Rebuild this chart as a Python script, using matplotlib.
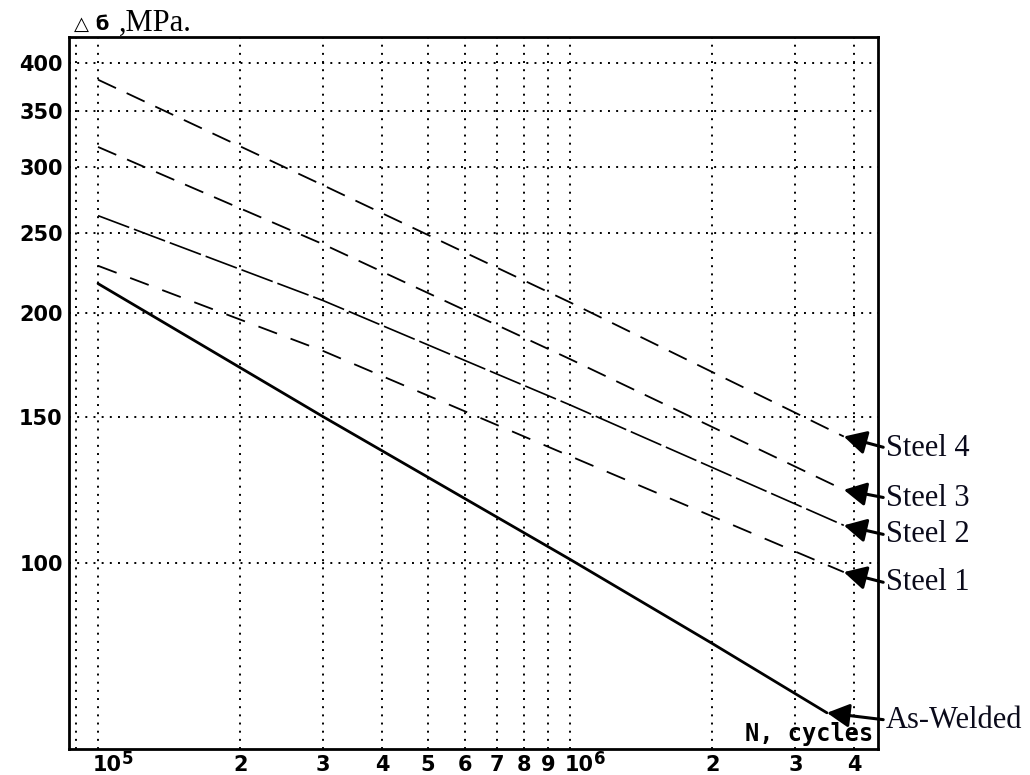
import matplotlib
matplotlib.use("Agg")
import matplotlib.pyplot as plt
from matplotlib import transforms as mtransforms
from matplotlib.ticker import NullLocator

# Fatigue (S-N) curves: stress range vs. number of cycles
cycles_aw = [1e5, 3e5, 1e6, 2e6, 3.5e6]
stress_aw = [217, 150, 101, 80, 66]

cycles_s1 = [1e5, 3e5, 1e6, 3.8e6]
stress_s1 = [228, 180, 134.5, 97.5]

cycles_s2 = [1e5, 3e5, 1e6, 3.8e6]
stress_s2 = [262, 207, 155, 111]

cycles_s3 = [1e5, 3e5, 1e6, 3.8e6]
stress_s3 = [317, 242, 176, 122.5]

cycles_s4 = [1e5, 3e5, 1e6, 3.8e6]
stress_s4 = [382, 285, 206, 142]

series_names = ["Steel 4", "Steel 3", "Steel 2", "Steel 1", "As-Welded"]

x_ticks = [9e4, 1e5, 2e5, 3e5, 4e5, 5e5, 6e5, 7e5, 8e5, 9e5, 1e6, 2e6, 3e6, 4e6]
x_labels = ["", "", "2", "3", "4", "5", "6", "7", "8", "9", "", "2", "3", "4"]
decades = [1e5, 1e6]
decade_exps = ["5", "6"]
y_ticks = [100, 150, 200, 250, 300, 350, 400]
y_labels = ["100", "150", "200", "250", "300", "350", "400"]

W, H = 1030, 775
fig = plt.figure(figsize=(W / 100, H / 100), dpi=100)
fig.patch.set_facecolor("white")
ax = fig.add_axes([69 / W, 26 / H, 809 / W, 712 / H])
ax.set_xscale("log")
ax.set_yscale("log")
ax.set_xlim(86800, 4.49e6)
ax.set_ylim(59.7, 430)

# dotted grid
ax.set_xticks(x_ticks, x_labels, fontweight="bold", fontsize=15)
ax.set_yticks(y_ticks, y_labels, fontweight="bold", fontsize=15)
ax.xaxis.set_minor_locator(NullLocator())
ax.yaxis.set_minor_locator(NullLocator())
ax.tick_params(axis="both", length=0, pad=4.5)
ax.grid(True, which="major", color="black", linestyle=(0, (1, 3.2)), linewidth=1.4)
ax.set_axisbelow(True)
for sp in ax.spines.values():
    sp.set_linewidth(2.0)
    sp.set_color("black")

# decade labels: "10" with a raised exponent
base_trans = mtransforms.offset_copy(ax.get_xaxis_transform(), fig=fig, x=-5, y=-22, units="dots")
exp_trans = mtransforms.offset_copy(ax.get_xaxis_transform(), fig=fig, x=24, y=-15, units="dots")
for dec, ex in zip(decades, decade_exps):
    ax.text(dec, 0, "10", transform=base_trans, ha="left", va="baseline",
            fontsize=15, fontweight="bold")
    ax.text(dec, 0, ex, transform=exp_trans, ha="left", va="baseline",
            fontsize=12, fontweight="bold")

# curves
ax.plot(cycles_aw, stress_aw, color="black", lw=2.0, solid_capstyle="round")
ax.plot(cycles_s1, stress_s1, color="black", lw=1.3, linestyle=(0, (11, 8)))
ax.plot(cycles_s2, stress_s2, color="black", lw=1.2, linestyle=(0, (20, 3)))
ax.plot(cycles_s3, stress_s3, color="black", lw=1.3, linestyle=(0, (11, 6.5)))
ax.plot(cycles_s4, stress_s4, color="black", lw=1.3, linestyle=(0, (11, 6.5)))

# labelled arrows to curve ends
ends = [
    (cycles_s4[-1], stress_s4[-1]),
    (cycles_s3[-1], stress_s3[-1]),
    (cycles_s2[-1], stress_s2[-1]),
    (cycles_s1[-1], stress_s1[-1]),
    (cycles_aw[-1], stress_aw[-1]),
]
label_y = [448, 498, 535, 583, 720]
for name, (n_end, s_end), ly in zip(series_names, ends, label_y):
    ax.annotate(
        name, xy=(n_end, s_end), xycoords="data",
        xytext=(886, H - ly), textcoords="figure pixels",
        ha="left", va="center", fontsize=22, family="Liberation Serif",
        color="#0a0a1a", annotation_clip=False,
        arrowprops=dict(arrowstyle="-|>,head_length=0.85,head_width=0.45",
                        mutation_scale=16, lw=2.2, color="black",
                        shrinkA=0, shrinkB=0, relpos=(0, 0.5)),
    )

# axis titles
ax.text(0.994, 0.004, "N, cycles", transform=ax.transAxes, ha="right", va="bottom",
        fontsize=17, fontweight="bold", family="DejaVu Sans Mono")
fig.text(74 / W, 1 - 30 / H, "△ б", ha="left", va="baseline",
         fontsize=14, fontweight="bold", family="DejaVu Sans")
fig.text(119 / W, 1 - 31 / H, ",MPa.", ha="left", va="baseline",
         fontsize=22, family="Liberation Serif")

fig.savefig("out.png", dpi=100, facecolor="white")
